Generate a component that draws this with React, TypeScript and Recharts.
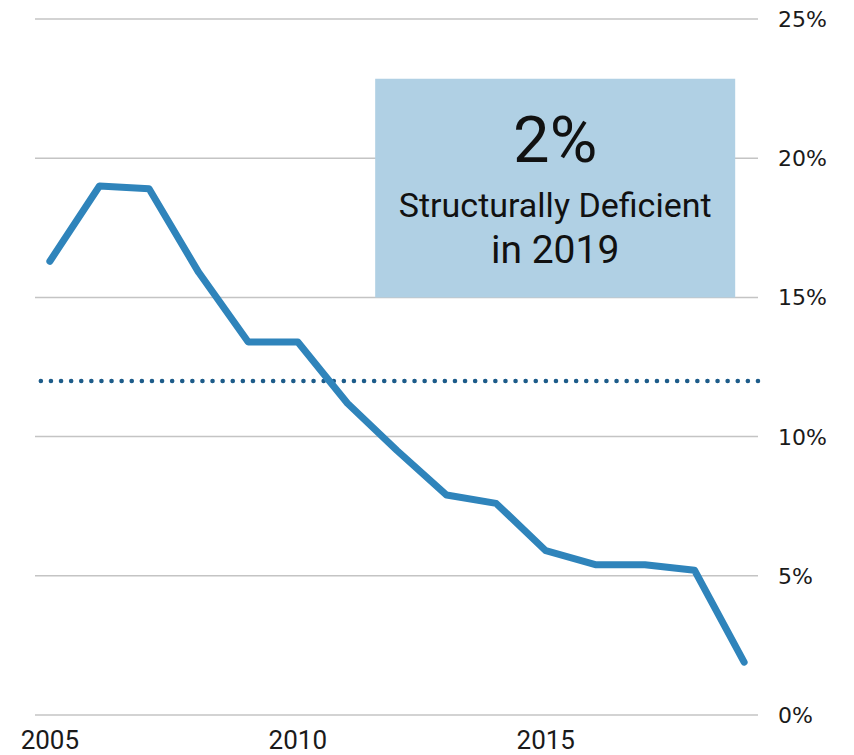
import React from 'react';
import { LineChart, Line, XAxis, YAxis, CartesianGrid, ReferenceLine, ReferenceArea } from 'recharts';

const years = [2005, 2006, 2007, 2008, 2009, 2010, 2011, 2012, 2013, 2014, 2015, 2016, 2017, 2018, 2019];
const deficientPct = [16.3, 19.0, 18.9, 15.9, 13.4, 13.4, 11.2, 9.5, 7.9, 7.6, 5.9, 5.4, 5.4, 5.2, 1.9];

const xTicks = [2005, 2010, 2015];
const yTicks = [0, 5, 10, 15, 20, 25];
const averageLine = 12;

const calloutYears = [2011.56, 2018.82];
const calloutRange = [15, 22.85];
const calloutBig = '2%';
const calloutLines = ['Structurally Deficient', 'in 2019'];

const data = years.map((year, i) => ({ year, value: deficientPct[i] }));

const XTick = (props: any) => {
  const { x, y, payload } = props;
  return (
    <text x={x} y={y + 26} textAnchor="middle" fill="#1a1a1a" fontSize={26} fontFamily="Roboto, sans-serif">
      {payload.value}
    </text>
  );
};

const YTick = (props: any) => {
  const { y, payload } = props;
  return (
    <text x={778} y={y + 8} textAnchor="start" fill="#1a1a1a" fontSize={22} fontFamily="'DejaVu Sans', sans-serif">
      {payload.value}%
    </text>
  );
};

const CalloutLabel = (props: any) => {
  const vb = props.viewBox || {};
  const cx = vb.x + vb.width / 2;
  return (
    <g fontFamily="Roboto, sans-serif" fill="#111" textAnchor="middle">
      <text x={cx} y={vb.y + 83} fontSize={65}>{calloutBig}</text>
      <text x={cx} y={vb.y + 138} fontSize={34}>{calloutLines[0]}</text>
      <text x={cx} y={vb.y + 184} fontSize={39}>{calloutLines[1]}</text>
    </g>
  );
};

export default function App() {
  return (
    <div style={{ position: 'absolute', left: 0, top: 0, background: '#fff' }}>
      <LineChart width={854} height={755} data={data} margin={{ top: 19, right: 0, left: 35, bottom: 0 }}>
        <CartesianGrid vertical={false} stroke="#c4c4c4" strokeWidth={1.5} />
        <XAxis
          dataKey="year"
          type="number"
          domain={[2004.7, 2019.28]}
          ticks={xTicks}
          allowDataOverflow
          axisLine={false}
          tickLine={false}
          height={40}
          tick={<XTick />}
        />
        <YAxis
          orientation="right"
          domain={[0, 25]}
          ticks={yTicks}
          axisLine={false}
          tickLine={false}
          width={96}
          tick={<YTick />}
        />
        <ReferenceArea
          x1={calloutYears[0]}
          x2={calloutYears[1]}
          y1={calloutRange[0]}
          y2={calloutRange[1]}
          fill="#b0d0e4"
          fillOpacity={1}
          stroke="none"
          label={<CalloutLabel />}
        />
        <ReferenceLine
          y={averageLine}
          stroke="#1d5c8a"
          strokeWidth={4.5}
          strokeDasharray="0.1 10"
          strokeLinecap="round"
        />
        <Line
          type="linear"
          dataKey="value"
          stroke="#2f84bb"
          strokeWidth={7}
          strokeLinecap="round"
          strokeLinejoin="round"
          dot={false}
          activeDot={false}
          isAnimationActive={false}
        />
      </LineChart>
    </div>
  );
}
